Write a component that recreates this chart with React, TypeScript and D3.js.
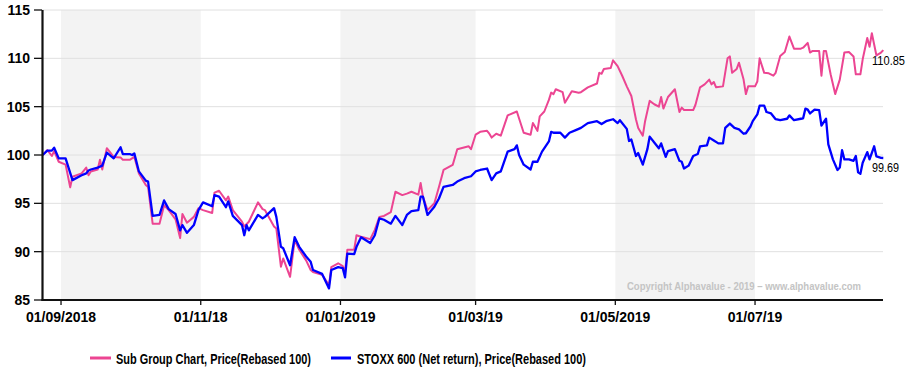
import React from "react";
import * as d3 from "d3";

const pinkDates = ["2018-08-24","2018-08-26","2018-08-28","2018-08-29","2018-08-31","2018-09-03","2018-09-05","2018-09-06","2018-09-10","2018-09-12","2018-09-13","2018-09-14","2018-09-17","2018-09-18","2018-09-19","2018-09-21","2018-09-24","2018-09-27","2018-09-28","2018-10-01","2018-10-03","2018-10-05","2018-10-08","2018-10-09","2018-10-11","2018-10-14","2018-10-16","2018-10-18","2018-10-21","2018-10-23","2018-10-24","2018-10-26","2018-10-29","2018-10-31","2018-11-02","2018-11-06","2018-11-07","2018-11-09","2018-11-12","2018-11-13","2018-11-15","2018-11-19","2018-11-20","2018-11-22","2018-11-26","2018-11-28","2018-11-29","2018-12-03","2018-12-04","2018-12-06","2018-12-07","2018-12-10","2018-12-12","2018-12-14","2018-12-17","2018-12-19","2018-12-20","2018-12-24","2018-12-27","2018-12-28","2018-12-31","2019-01-02","2019-01-03","2019-01-04","2019-01-07","2019-01-08","2019-01-10","2019-01-14","2019-01-16","2019-01-18","2019-01-20","2019-01-23","2019-01-25","2019-01-28","2019-01-30","2019-02-01","2019-02-04","2019-02-05","2019-02-06","2019-02-08","2019-02-11","2019-02-13","2019-02-15","2019-02-19","2019-02-21","2019-02-26","2019-02-27","2019-03-01","2019-03-03","2019-03-06","2019-03-07","2019-03-08","2019-03-10","2019-03-12","2019-03-15","2019-03-19","2019-03-22","2019-03-25","2019-03-26","2019-03-28","2019-03-29","2019-03-31","2019-04-02","2019-04-03","2019-04-04","2019-04-05","2019-04-08","2019-04-09","2019-04-12","2019-04-15","2019-04-16","2019-04-19","2019-04-23","2019-04-24","2019-04-25","2019-04-26","2019-04-29","2019-04-30","2019-05-02","2019-05-04","2019-05-06","2019-05-08","2019-05-10","2019-05-11","2019-05-13","2019-05-14","2019-05-16","2019-05-18","2019-05-20","2019-05-21","2019-05-22","2019-05-24","2019-05-27","2019-05-29","2019-05-30","2019-05-31","2019-06-04","2019-06-05","2019-06-07","2019-06-09","2019-06-11","2019-06-12","2019-06-13","2019-06-14","2019-06-17","2019-06-19","2019-06-20","2019-06-21","2019-06-23","2019-06-24","2019-06-26","2019-06-27","2019-06-28","2019-07-01","2019-07-02","2019-07-03","2019-07-05","2019-07-07","2019-07-09","2019-07-10","2019-07-12","2019-07-14","2019-07-16","2019-07-18","2019-07-21","2019-07-22","2019-07-24","2019-07-25","2019-07-26","2019-07-29","2019-07-30","2019-07-31","2019-08-01","2019-08-03","2019-08-05","2019-08-07","2019-08-09","2019-08-11","2019-08-13","2019-08-14","2019-08-16","2019-08-17","2019-08-19","2019-08-20","2019-08-21","2019-08-23","2019-08-25","2019-08-26"];
const pinkValues = [100.0,100.5,99.9,100.4,99.3,99.0,96.65,97.75,98.1,98.7,97.9,98.3,98.5,99.5,98.5,100.7,99.8,99.75,99.5,99.5,99.8,98.1,96.9,96.7,92.9,92.9,94.8,94.3,93.35,91.4,93.9,93.0,93.6,94.5,94.3,94.0,96.1,96.3,95.3,95.7,94.3,93.1,92.6,93.1,95.1,94.4,94.3,92.6,92.4,88.45,89.3,87.4,91.2,90.2,89.1,88.1,87.9,87.6,86.55,88.4,88.8,88.5,87.9,90.2,90.2,91.7,91.55,91.3,92.25,93.6,93.7,94.1,96.2,95.85,96.0,96.2,95.9,97.1,95.7,94.3,95.0,96.7,98.45,98.97,100.6,100.9,100.6,102.1,102.4,102.5,102.2,101.8,102.2,102.0,104.1,104.5,102.3,102.1,103.3,102.5,104.0,104.5,105.7,106.45,106.3,106.8,106.5,105.4,106.6,106.45,106.5,107.0,107.4,108.5,108.4,108.9,109.0,109.8,109.2,108.2,107.1,106.1,103.7,102.8,102.0,103.5,105.6,105.25,105.0,106.0,104.8,106.0,106.8,104.45,104.9,104.65,104.65,105.2,107.0,107.3,107.8,107.3,107.55,107.0,107.1,110.0,110.2,108.5,108.9,109.55,107.8,106.3,107.1,107.1,107.6,110.0,108.5,108.45,108.2,108.5,110.25,110.65,112.25,111.0,111.0,111.1,111.6,110.6,110.75,110.75,108.2,110.75,110.75,108.35,106.3,107.8,110.6,110.65,110.2,108.35,108.35,109.9,112.1,111.2,112.6,110.3,110.6,110.85];

const blueDates = ["2018-08-24","2018-08-26","2018-08-28","2018-08-29","2018-08-31","2018-09-03","2018-09-06","2018-09-10","2018-09-12","2018-09-13","2018-09-14","2018-09-17","2018-09-19","2018-09-21","2018-09-24","2018-09-27","2018-09-28","2018-10-01","2018-10-02","2018-10-03","2018-10-05","2018-10-08","2018-10-09","2018-10-11","2018-10-14","2018-10-16","2018-10-18","2018-10-21","2018-10-23","2018-10-24","2018-10-26","2018-10-29","2018-10-31","2018-11-02","2018-11-06","2018-11-07","2018-11-09","2018-11-12","2018-11-13","2018-11-15","2018-11-19","2018-11-20","2018-11-21","2018-11-22","2018-11-26","2018-11-28","2018-11-29","2018-12-03","2018-12-04","2018-12-06","2018-12-07","2018-12-10","2018-12-12","2018-12-14","2018-12-17","2018-12-19","2018-12-20","2018-12-24","2018-12-27","2018-12-28","2018-12-31","2019-01-02","2019-01-03","2019-01-04","2019-01-07","2019-01-08","2019-01-10","2019-01-14","2019-01-16","2019-01-18","2019-01-20","2019-01-23","2019-01-25","2019-01-28","2019-01-30","2019-02-01","2019-02-04","2019-02-05","2019-02-06","2019-02-08","2019-02-11","2019-02-13","2019-02-15","2019-02-19","2019-02-21","2019-02-24","2019-02-27","2019-03-01","2019-03-03","2019-03-06","2019-03-08","2019-03-10","2019-03-12","2019-03-15","2019-03-18","2019-03-19","2019-03-20","2019-03-22","2019-03-25","2019-03-26","2019-03-28","2019-03-30","2019-04-02","2019-04-03","2019-04-04","2019-04-07","2019-04-09","2019-04-11","2019-04-14","2019-04-16","2019-04-19","2019-04-23","2019-04-25","2019-04-27","2019-04-30","2019-05-02","2019-05-03","2019-05-06","2019-05-07","2019-05-08","2019-05-10","2019-05-11","2019-05-13","2019-05-15","2019-05-16","2019-05-18","2019-05-20","2019-05-21","2019-05-23","2019-05-24","2019-05-27","2019-05-29","2019-05-30","2019-05-31","2019-06-02","2019-06-04","2019-06-06","2019-06-07","2019-06-10","2019-06-11","2019-06-13","2019-06-15","2019-06-17","2019-06-18","2019-06-20","2019-06-22","2019-06-24","2019-06-26","2019-06-27","2019-06-29","2019-06-30","2019-07-02","2019-07-03","2019-07-05","2019-07-06","2019-07-08","2019-07-10","2019-07-12","2019-07-15","2019-07-16","2019-07-18","2019-07-21","2019-07-22","2019-07-23","2019-07-24","2019-07-25","2019-07-27","2019-07-29","2019-07-30","2019-08-01","2019-08-02","2019-08-04","2019-08-06","2019-08-07","2019-08-08","2019-08-09","2019-08-11","2019-08-13","2019-08-14","2019-08-15","2019-08-16","2019-08-17","2019-08-19","2019-08-20","2019-08-22","2019-08-23","2019-08-25","2019-08-26"];
const blueValues = [100.0,100.45,100.45,100.75,99.65,99.65,97.4,97.9,98.1,98.4,98.5,98.7,98.9,100.25,99.65,100.8,100.1,100.1,100.0,100.17,98.3,97.35,97.25,93.7,93.8,95.3,94.4,93.9,92.2,92.75,91.95,92.75,94.3,95.1,94.7,95.85,95.7,94.6,95.2,93.7,92.75,91.7,92.75,92.2,93.8,93.45,93.6,94.5,93.6,90.5,90.35,88.6,91.5,90.5,89.5,88.95,88.1,87.7,86.2,88.1,88.4,88.3,87.35,89.8,89.75,90.5,91.5,90.9,91.7,93.45,93.3,92.9,93.7,92.75,93.8,94.2,94.3,95.7,95.7,93.8,94.65,95.5,96.7,96.9,97.25,97.6,97.8,98.3,98.45,98.6,97.4,98.1,98.3,100.35,100.6,101.0,100.0,99.0,98.5,99.3,99.3,100.35,101.4,102.4,102.3,102.3,101.8,102.3,102.6,102.8,103.3,103.5,103.2,103.5,103.7,103.3,103.6,102.7,101.45,101.6,99.9,100.2,99.0,100.6,101.9,101.3,100.7,101.2,99.8,100.4,100.6,99.4,99.3,98.6,98.9,99.9,100.1,100.9,101.0,101.8,101.5,101.2,101.2,102.8,103.25,102.8,102.65,102.2,102.25,102.95,103.5,104.2,105.1,105.1,104.45,104.3,103.7,103.6,103.75,104.1,103.6,103.75,103.8,104.8,104.7,104.3,104.7,104.65,103.05,103.75,101.1,99.55,98.45,98.7,100.5,99.55,99.55,99.4,99.9,98.2,98.05,99.2,100.3,99.55,100.9,99.85,99.7,99.69];

const seriesNames = ["Sub Group Chart, Price(Rebased 100)", "STOXX 600 (Net return), Price(Rebased 100)"];
const seriesColors = ["#ec4592", "#0000ff"];
const yTicks = [85, 90, 95, 100, 105, 110, 115];
const xTickDates = ["2018-09-01", "2018-11-01", "2019-01-01", "2019-03-01", "2019-05-01", "2019-07-01"];
const xTickLabels = ["01/09/2018", "01/11/18", "01/01/2019", "01/03/19", "01/05/2019", "01/07/19"];
const shadedBands = [["2018-09-01", "2018-11-01"], ["2019-01-01", "2019-03-01"], ["2019-05-01", "2019-07-01"]];
const domainDates = ["2018-08-24", "2019-08-26"];
const copyright = "Copyright Alphavalue - 2019 \u2013 www.alphavalue.com";

const parse = d3.timeParse("%Y-%m-%d");

export default function App() {
  const left = 42.7, right = 883.3, top = 10, bottom = 300;
  const x = d3.scaleTime().domain(domainDates.map((d) => parse(d) as Date)).range([left, right]);
  const y = d3.scaleLinear().domain([85, 115]).range([bottom, top]);
  const mk = (dates: string[], vals: number[]) => dates.map((d, i) => ({ d: parse(d) as Date, v: vals[i] }));
  const pink = mk(pinkDates, pinkValues);
  const blue = mk(blueDates, blueValues);
  const line = d3.line<{ d: Date; v: number }>().x((p) => x(p.d)).y((p) => y(p.v));
  const font = "Arial, 'Liberation Sans', sans-serif";
  const pl = pink[pink.length - 1];
  const bl = blue[blue.length - 1];
  return (
    <svg width={912} height={377} style={{ position: "absolute", left: 0, top: 0, background: "#fff" }} fontFamily={font}>
      {shadedBands.map(([a, b], i) => (
        <rect key={i} x={x(parse(a) as Date)} y={top} width={x(parse(b) as Date) - x(parse(a) as Date)} height={bottom - top} fill="#f3f3f3" />
      ))}
      {yTicks.map((t) => (
        <line key={t} x1={42} x2={883} y1={y(t)} y2={y(t)} stroke="#e0e0e0" strokeWidth={1} />
      ))}
      <text x={627} y={290} fontSize={10} fontWeight="bold" fill="#c4c4c4" textLength={234} lengthAdjust="spacingAndGlyphs">{copyright}</text>
      <path d={line(pink) || ""} fill="none" stroke={seriesColors[0]} strokeWidth={2} strokeLinejoin="round" />
      <path d={line(blue) || ""} fill="none" stroke={seriesColors[1]} strokeWidth={2.3} strokeLinejoin="round" />
      <text x={872} y={y(pl.v) + 15} fontSize={12} fill="#000" textLength={33} lengthAdjust="spacingAndGlyphs">{pl.v.toFixed(2)}</text>
      <text x={872} y={y(bl.v) + 14} fontSize={12} fill="#000" textLength={27} lengthAdjust="spacingAndGlyphs">{bl.v.toFixed(2)}</text>
      {/* y axis */}
      <line x1={42.5} x2={42.5} y1={top} y2={bottom + 1} stroke="#111" strokeWidth={2.2} />
      {yTicks.map((t) => (
        <g key={t}>
          <line x1={34} x2={42} y1={y(t)} y2={y(t)} stroke="#111" strokeWidth={1.3} />
          <text x={30} y={y(t)} dy="0.35em" textAnchor="end" fontSize={14} fontWeight="bold" fill="#000">{t}</text>
        </g>
      ))}
      {/* x axis */}
      <line x1={41.5} x2={883} y1={300} y2={300} stroke="#111" strokeWidth={2.2} />
      {xTickDates.map((d, i) => {
        const xx = x(parse(d) as Date);
        return (
          <g key={d}>
            <line x1={xx} x2={xx} y1={300} y2={305} stroke="#111" strokeWidth={1.3} />
            <text x={xx} y={322} textAnchor="middle" fontSize={14} fontWeight="bold" fill="#000">{xTickLabels[i]}</text>
          </g>
        );
      })}
      {/* legend */}
      <line x1={90} x2={111} y1={358} y2={358} stroke={seriesColors[0]} strokeWidth={3} />
      <text x={116} y={364} fontSize={14} fontWeight="bold" fill="#000" textLength={195} lengthAdjust="spacingAndGlyphs">{seriesNames[0]}</text>
      <line x1={331} x2={351} y1={358} y2={358} stroke={seriesColors[1]} strokeWidth={3} />
      <text x={357} y={364} fontSize={14} fontWeight="bold" fill="#000" textLength={229} lengthAdjust="spacingAndGlyphs">{seriesNames[1]}</text>
    </svg>
  );
}
